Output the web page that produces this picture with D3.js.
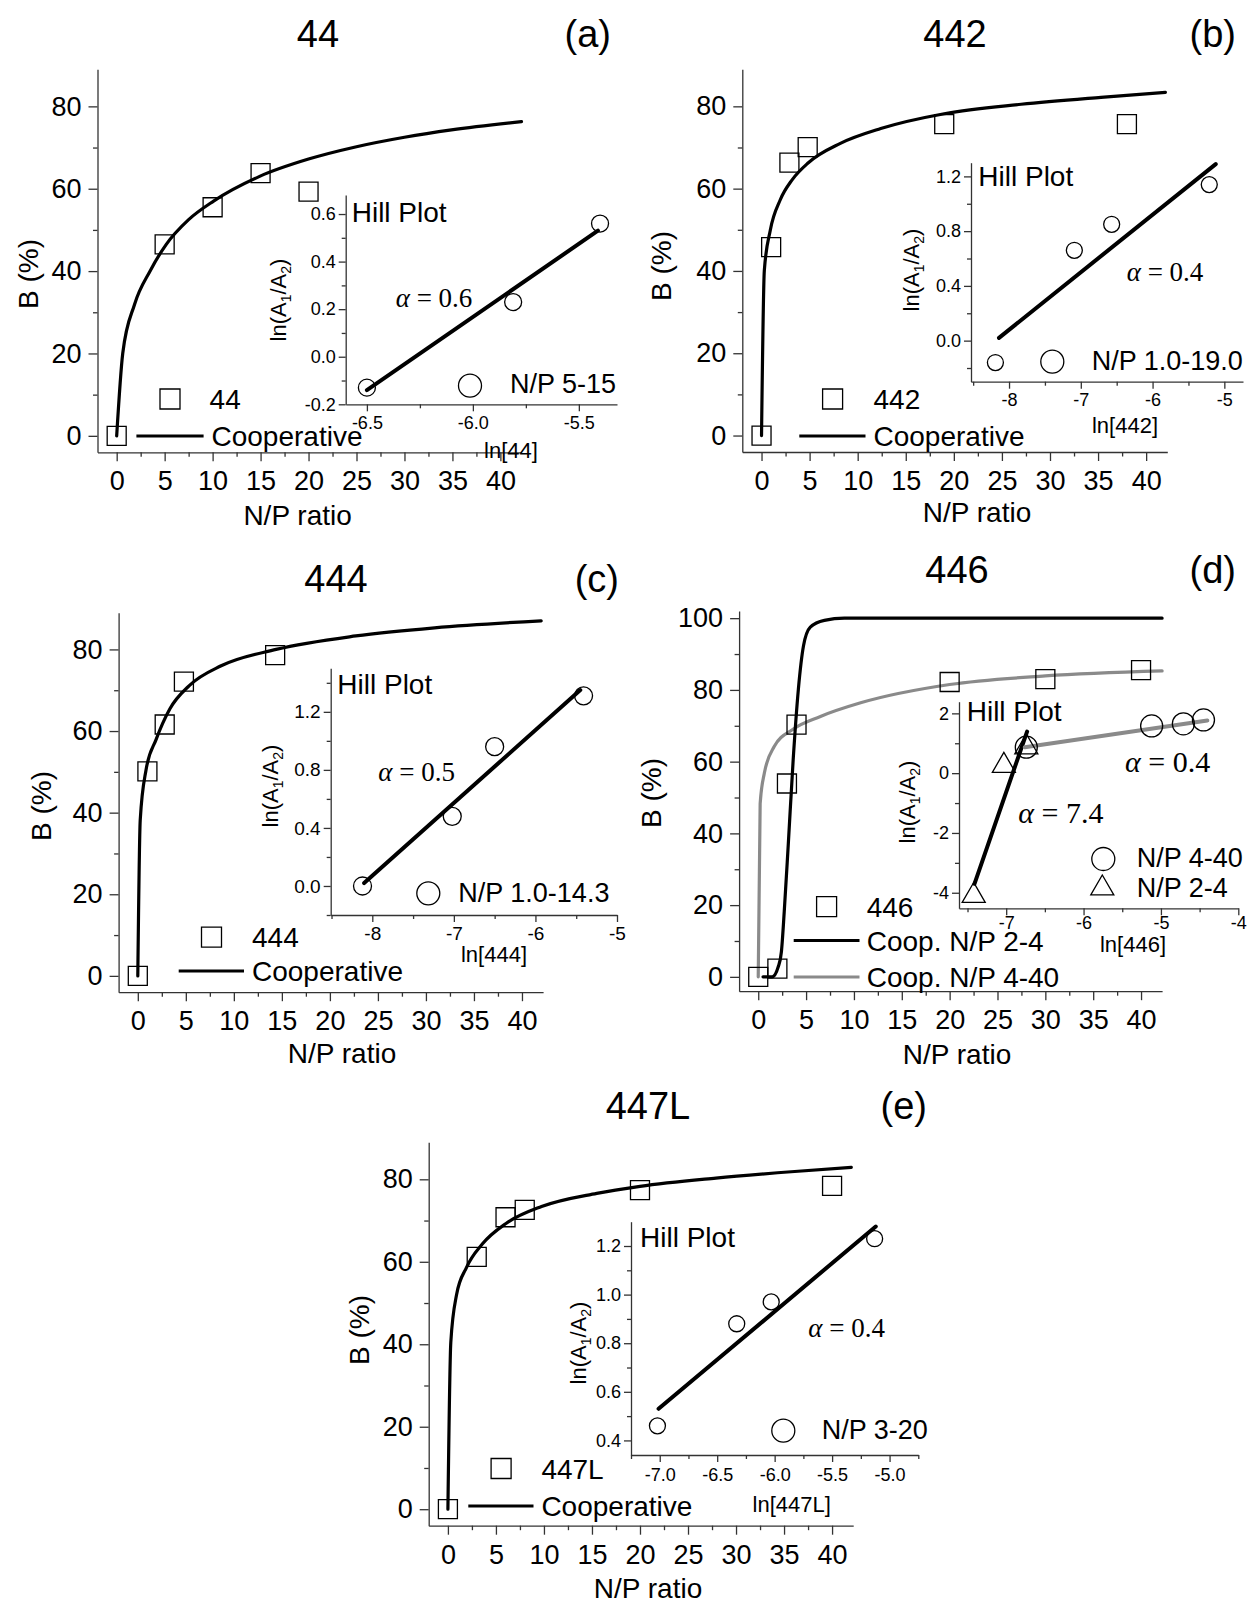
<!DOCTYPE html>
<html>
<head>
<meta charset="utf-8">
<script src="https://cdn.jsdelivr.net/npm/d3@7"></script>
<style>
  html, body { margin: 0; padding: 0; background: #fff; }
  svg { display: block; }
</style>
</head>
<body>
<svg id="fig" width="1249" height="1604"></svg>
<script>
// ---------- shared axis ticks ----------
const npTicks = [0, 5, 10, 15, 20, 25, 30, 35, 40];
const npMinor = [2.5, 7.5, 12.5, 17.5, 22.5, 27.5, 32.5, 37.5];
const npDomain = [-2, 42.2];
const bTicks = [0, 20, 40, 60, 80];
const bMinor = [10, 30, 50, 70];
const bTicks446 = [0, 20, 40, 60, 80, 100];
const bMinor446 = [10, 30, 50, 70, 90];

// ---------- titles ----------
const compounds = ["44", "442", "444", "446", "447L"];
const tags = ["(a)", "(b)", "(c)", "(d)", "(e)"];

// ---------- (a) 44 ----------
const np44 = [0, 5, 10, 15, 20];
const b44 = [0, 46.5, 55.5, 63.8, 59.3];
const coopNp44 = [0, 0.63, 1.86, 3.5, 5.17, 7.5, 10.1, 14.9, 20, 25, 30, 34.9, 42.2];
const coopB44 = [0, 20, 31.9, 40.1, 46.5, 52.5, 57.0, 63.0, 67.2, 70.2, 72.5, 74.3, 76.3];
const hillLn44 = [-6.50, -5.81, -5.40];
const hillY44 = [-0.13, 0.23, 0.56];
const fitLn44 = [-6.50, -5.41];
const fitY44 = [-0.14, 0.53];

// ---------- (b) 442 ----------
const np442 = [0, 1, 2.9, 4.8, 19, 38];
const b442 = [0, 45.8, 66.3, 70.1, 75.7, 75.7];
const coopNp442 = [0, 0.29, 0.91, 1.95, 3.2, 4.87, 8.2, 12.4, 19, 27, 35.3, 42];
const coopB442 = [0, 40.1, 49.9, 57.3, 62.2, 66.3, 71.0, 74.6, 78.2, 80.5, 82.2, 83.4];
const hillLn442 = [-8.19, -7.09, -6.57, -5.21];
const hillY442 = [-0.16, 0.66, 0.85, 1.14];
const fitLn442 = [-8.14, -5.12];
const fitY442 = [0.02, 1.29];

// ---------- (c) 444 ----------
const np444 = [0, 1, 2.8, 4.8, 14.3];
const b444 = [0, 50.1, 61.6, 72.1, 78.6];
const coopNp444 = [0, 0.25, 0.86, 1.9, 3.33, 5.39, 8.68, 14.4, 22.7, 30.9, 42];
const coopB444 = [0, 38.1, 50.5, 57.9, 65.4, 71.2, 76.0, 80.0, 83.3, 85.3, 87.0];
const hillLn444 = [-8.12, -7.02, -6.50, -5.41];
const hillY444 = [0.0, 0.48, 0.96, 1.31];
const fitLn444 = [-8.10, -5.45];
const fitY444 = [0.02, 1.35];

// ---------- (d) 446 ----------
const np446 = [0, 2, 3, 4, 20, 30, 40];
const b446 = [0, 2.3, 53.9, 70.3, 82.2, 83.0, 85.5];
const coopLowNp446 = [0.5, 1.46, 2.09, 2.42, 2.72, 3.14, 3.65, 4.19, 4.73, 5.44, 6.91, 9, 42.2];
const coopLowB446 = [0, 0, 2.8, 7, 18.3, 37, 60.5, 80.1, 92.3, 97.5, 99.4, 100, 100];
const coopHighNp446 = [0, 0.2, 0.63, 1.67, 3.56, 6.5, 10.7, 20, 30, 42.2];
const coopHighB446 = [0, 48.3, 56.7, 64.2, 68.9, 72.6, 76.4, 81.5, 83.9, 85.3];
const hillLnHigh446 = [-6.74, -5.12, -4.71, -4.45];
const hillYHigh446 = [0.87, 1.58, 1.65, 1.78];
const hillLnLow446 = [-7.42, -7.03, -6.74];
const hillYLow446 = [-4.1, 0.25, 0.87];
const fitLnLow446 = [-7.41, -6.73];
const fitYLow446 = [-3.7, 1.39];
const fitLnHigh446 = [-6.76, -4.40];
const fitYHigh446 = [0.87, 1.76];

// ---------- (e) 447L ----------
const np447 = [0, 3, 6, 8, 20, 40];
const b447 = [0, 61.2, 70.8, 72.6, 77.4, 78.4];
const coopNp447 = [0, 0.3, 0.9, 1.93, 3.58, 6.05, 9.75, 15.5, 20, 27.9, 36.1, 42];
const coopB447 = [0, 40.4, 52, 58.6, 64.3, 69.3, 73.4, 76.6, 78.3, 80.3, 81.9, 82.9];
const hillLn447 = [-7.02, -6.33, -6.03, -5.13];
const hillY447 = [0.46, 0.88, 0.97, 1.23];
const fitLn447 = [-7.01, -5.12];
const fitY447 = [0.53, 1.28];

// ---------- inset tick values ----------
const insetTicks = {
  a: { xMajor: [-6.5, -6.0, -5.5], xMinor: [-6.25, -5.75], yMajor: [-0.2, 0.0, 0.2, 0.4, 0.6], yMinor: [-0.1, 0.1, 0.3, 0.5] },
  b: { xMajor: [-8, -7, -6, -5], xMinor: [-8.5, -7.5, -6.5, -5.5], yMajor: [0.0, 0.4, 0.8, 1.2], yMinor: [-0.2, 0.2, 0.6, 1.0] },
  c: { xMajor: [-8, -7, -6, -5], xMinor: [-8.5, -7.5, -6.5, -5.5], yMajor: [0.0, 0.4, 0.8, 1.2], yMinor: [-0.2, 0.2, 0.6, 1.0, 1.4] },
  d: { xMajor: [-7, -6, -5, -4], xMinor: [-7.5, -6.5, -5.5, -4.5], yMajor: [-4, -2, 0, 2], yMinor: [-3, -1, 1] },
  e: { xMajor: [-7.0, -6.5, -6.0, -5.5, -5.0], xMinor: [-7.25, -6.75, -6.25, -5.75, -5.25, -4.75], yMajor: [0.4, 0.6, 0.8, 1.0, 1.2], yMinor: [0.5, 0.7, 0.9, 1.1] }
};

// ---------- styling ----------
const SANS = "'Liberation Sans', Arial, Helvetica, sans-serif";
const SERIF = "'Liberation Serif', 'Times New Roman', serif";
const AX = "#333";
const GREY = "#8a8a8a";
const fmt1 = d => d.toFixed(1);
const fmt0 = d => String(d);

const svg = d3.select("#fig");
svg.append("rect").attr("width", 1249).attr("height", 1604).attr("fill", "#fff");

const squareSym = d3.symbol(d3.symbolSquare, 19 * 19)();
const squareLeg = d3.symbol(d3.symbolSquare, 20 * 20)();

function styleAxis(g, fs) {
  g.attr("font-family", SANS).attr("font-size", fs).attr("color", "#000");
  g.selectAll("path.domain").attr("stroke", AX).attr("stroke-width", 1.3);
  g.selectAll(".tick line").attr("stroke", AX).attr("stroke-width", 1.3);
}

function drawAxes(g, x, y, o) {
  const h = y.range()[0];
  const xMin = g.append("g").attr("transform", `translate(0,${h})`)
    .call(d3.axisBottom(x).tickValues(o.xMinor).tickSize(o.minor).tickSizeOuter(0).tickFormat(""));
  const xMaj = g.append("g").attr("transform", `translate(0,${h})`)
    .call(d3.axisBottom(x).tickValues(o.xMajor).tickSize(o.major).tickSizeOuter(0).tickPadding(o.xPad).tickFormat(o.fx));
  xMaj.select("path.domain").remove();
  const yMin = g.append("g")
    .call(d3.axisLeft(y).tickValues(o.yMinor).tickSize(o.minor).tickSizeOuter(0).tickFormat(""));
  const yMaj = g.append("g")
    .call(d3.axisLeft(y).tickValues(o.yMajor).tickSize(o.major).tickSizeOuter(0).tickPadding(o.yPad).tickFormat(o.fy));
  yMaj.select("path.domain").remove();
  [xMin, xMaj, yMin, yMaj].forEach(a => styleAxis(a, o.font));
}

function label(x, y, txt, size, anchor, family) {
  return svg.append("text").attr("x", x).attr("y", y).attr("font-family", family || SANS)
    .attr("font-size", size).attr("text-anchor", anchor || "start").attr("fill", "#000").text(txt);
}

function rotLabel(cx, cy, size) {
  return svg.append("text")
    .attr("transform", `translate(${cx + 0.35 * size},${cy}) rotate(-90)`)
    .attr("font-family", SANS).attr("font-size", size).attr("text-anchor", "middle").attr("fill", "#000");
}

function alphaLabel(x, y, value, size) {
  const t = svg.append("text").attr("x", x).attr("y", y).attr("font-family", SERIF)
    .attr("font-size", size).attr("fill", "#000");
  t.append("tspan").attr("font-style", "italic").text("\u03b1");
  t.append("tspan").text(" = " + value);
}

function hillTitle(cx, cy) {
  const t = rotLabel(cx, cy, 22);
  t.append("tspan").text("ln(A");
  t.append("tspan").attr("font-size", 14).attr("dy", 5).text("1");
  t.append("tspan").attr("dy", -5).text("/A");
  t.append("tspan").attr("font-size", 14).attr("dy", 5).text("2");
  t.append("tspan").attr("dy", -5).text(")");
}

// ---------- main panels ----------
const mainPanels = [
  { name: compounds[0], tag: tags[0], left: 97.5, top: 69.3, width: 424, height: 383, yDomain: [-4, 89], yT: bTicks, yM: bMinor,
    np: np44, b: b44, curves: [{ x: coopNp44, y: coopB44, color: "#000" }],
    title: [318, 47], tagPos: [611, 47], yTitle: [27.7, 274], xTitle: [297.6, 525],
    legSq: [170, 399], legLabel: [209.6, 409], legLines: [{ x1: 136.4, x2: 203.6, y: 436, color: "#000", text: "Cooperative", tx: 211.5, ty: 446 }] },
  { name: compounds[1], tag: tags[1], left: 742.3, top: 69.3, width: 425, height: 382.7, yDomain: [-4, 89], yT: bTicks, yM: bMinor,
    np: np442, b: b442, curves: [{ x: coopNp442, y: coopB442, color: "#000" }],
    title: [955, 47], tagPos: [1236, 47], yTitle: [661, 266], xTitle: [977, 522],
    legSq: [832.6, 399], legLabel: [873.5, 409], legLines: [{ x1: 799.3, x2: 865.5, y: 436, color: "#000", text: "Cooperative", tx: 873.5, ty: 446 }] },
  { name: compounds[2], tag: tags[2], left: 118.6, top: 612.7, width: 424.5, height: 379.5, yDomain: [-4, 89], yT: bTicks, yM: bMinor,
    np: np444, b: b444, curves: [{ x: coopNp444, y: coopB444, color: "#000" }],
    title: [336, 592], tagPos: [619, 592], yTitle: [41.5, 806], xTitle: [342, 1063],
    legSq: [211.5, 937.2], legLabel: [252, 947], legLines: [{ x1: 178.7, x2: 244, y: 971, color: "#000", text: "Cooperative", tx: 252, ty: 981 }] },
  { name: compounds[3], tag: tags[3], left: 739.1, top: 611, width: 423, height: 380.2, yDomain: [-4, 102], yT: bTicks446, yM: bMinor446,
    np: np446, b: b446,
    curves: [{ x: coopHighNp446, y: coopHighB446, color: GREY }, { x: coopLowNp446, y: coopLowB446, color: "#000" }],
    title: [957, 583], tagPos: [1236, 583], yTitle: [651, 793], xTitle: [957, 1064],
    legSq: [826.6, 906.7], legLabel: [866.7, 917],
    legLines: [{ x1: 793.7, x2: 859.5, y: 940.5, color: "#000", text: "Coop. N/P 2-4", tx: 866.7, ty: 950.5 },
               { x1: 793.7, x2: 859.5, y: 977, color: GREY, text: "Coop. N/P 4-40", tx: 866.7, ty: 987 }] },
  { name: compounds[4], tag: tags[4], left: 428.7, top: 1142.2, width: 424.5, height: 383.5, yDomain: [-4, 89], yT: bTicks, yM: bMinor,
    np: np447, b: b447, curves: [{ x: coopNp447, y: coopB447, color: "#000" }],
    title: [648, 1119], tagPos: [927, 1119], yTitle: [359.5, 1330], xTitle: [648, 1598],
    legSq: [501.1, 1468.5], legLabel: [541.4, 1478.5], legLines: [{ x1: 468.3, x2: 533.5, y: 1506, color: "#000", text: "Cooperative", tx: 541.4, ty: 1516 }] }
];

mainPanels.forEach(p => {
  const g = svg.append("g").attr("transform", `translate(${p.left},${p.top})`);
  const x = d3.scaleLinear().domain(npDomain).range([0, p.width]);
  const y = d3.scaleLinear().domain(p.yDomain).range([p.height, 0]);
  drawAxes(g, x, y, { xMajor: npTicks, xMinor: npMinor, yMajor: p.yT, yMinor: p.yM,
    major: 9, minor: 4.5, xPad: 10, yPad: 7, font: 27, fx: fmt0, fy: fmt0 });

  const line = d3.line().x(d => x(d[0])).y(d => y(d[1])).curve(d3.curveMonotoneX);
  p.curves.forEach(c => {
    g.append("path").attr("d", line(d3.zip(c.x, c.y))).attr("fill", "none")
      .attr("stroke", c.color).attr("stroke-width", 3.2).attr("stroke-linejoin", "round").attr("stroke-linecap", "round");
  });
  g.append("g").selectAll("path").data(d3.zip(p.np, p.b)).join("path")
    .attr("transform", d => `translate(${x(d[0])},${y(d[1])})`)
    .attr("d", squareSym).attr("fill", "none").attr("stroke", "#000").attr("stroke-width", 1.3);

  // titles
  label(p.title[0], p.title[1], p.name, 38, "middle");
  label(p.tagPos[0], p.tagPos[1], p.tag, 38, "end");
  rotLabel(p.yTitle[0], p.yTitle[1], 28).text("B (%)");
  label(p.xTitle[0], p.xTitle[1], "N/P ratio", 28, "middle");

  // legend
  svg.append("path").attr("transform", `translate(${p.legSq[0]},${p.legSq[1]})`).attr("d", squareLeg)
    .attr("fill", "none").attr("stroke", "#000").attr("stroke-width", 1.3);
  label(p.legLabel[0], p.legLabel[1], p.name, 28);
  p.legLines.forEach(l => {
    svg.append("line").attr("x1", l.x1).attr("x2", l.x2).attr("y1", l.y).attr("y2", l.y)
      .attr("stroke", l.color).attr("stroke-width", 3.2);
    label(l.tx, l.ty, l.text, 28);
  });
});

// ---------- Hill plot insets ----------
const insets = [
  { key: "a", left: 345.7, top: 195, right: 617, bottom: 404.3, xDomain: [-6.6, -5.32], yDomain: [-0.2, 0.68], fx: fmt1, fy: fmt1, xPad: 5, font: 18,
    circles: [{ x: hillLn44, y: hillY44, r: 8.5 }], triangles: null,
    fits: [{ x: fitLn44, y: fitY44, color: "#000" }],
    hill: [351.7, 221.7], alphas: [{ x: 395.7, y: 306.7, v: "0.6", s: 27 }],
    legend: [{ shape: "circle", x: 470, y: 385.7, text: "N/P 5-15", tx: 510, ty: 393 }],
    xTitle: ["ln[44]", 511, 458], yTitle: [278, 300] },
  { key: "b", left: 971, top: 162.7, right: 1243, bottom: 381.7, xDomain: [-8.53, -4.74], yDomain: [-0.3, 1.3], fx: fmt0, fy: fmt1, xPad: 5, font: 18,
    circles: [{ x: hillLn442, y: hillY442, r: 8 }], triangles: null,
    fits: [{ x: fitLn442, y: fitY442, color: "#000" }],
    hill: [978.3, 185.7], alphas: [{ x: 1126.7, y: 280.5, v: "0.4", s: 27 }],
    legend: [{ shape: "circle", x: 1052.3, y: 361.7, text: "N/P 1.0-19.0", tx: 1091.7, ty: 370 }],
    xTitle: ["ln[442]", 1125, 433], yTitle: [911, 270] },
  { key: "c", left: 330.7, top: 668.3, right: 617, bottom: 915, xDomain: [-8.51, -5.0], yDomain: [-0.2, 1.5], fx: fmt0, fy: fmt1, xPad: 5, font: 19,
    circles: [{ x: hillLn444, y: hillY444, r: 9 }], triangles: null,
    fits: [{ x: fitLn444, y: fitY444, color: "#000" }],
    hill: [337.3, 694], alphas: [{ x: 378.3, y: 781, v: "0.5", s: 27 }],
    legend: [{ shape: "circle", x: 428.3, y: 893.3, text: "N/P 1.0-14.3", tx: 458.3, ty: 901.7 }],
    xTitle: ["ln[444]", 494, 962], yTitle: [270, 786] },
  { key: "d", left: 959, top: 701.7, right: 1238.3, bottom: 908.3, xDomain: [-7.61, -4.0], yDomain: [-4.52, 2.39], fx: fmt0, fy: fmt0, xPad: 1, font: 18,
    circles: [{ x: hillLnHigh446, y: hillYHigh446, r: 11 }],
    triangles: { x: hillLnLow446, y: hillYLow446 },
    fits: [{ x: fitLnLow446, y: fitYLow446, color: "#000" }, { x: fitLnHigh446, y: fitYHigh446, color: GREY }],
    hill: [966.7, 720.5], alphas: [{ x: 1125, y: 771.5, v: "0.4", s: 30 }, { x: 1018.3, y: 822.5, v: "7.4", s: 30 }],
    legend: [{ shape: "circle", x: 1103.3, y: 859, text: "N/P 4-40", tx: 1136.7, ty: 867 },
             { shape: "triangle", x: 1102.3, y: 888.3, text: "N/P 2-4", tx: 1136.7, ty: 897 }],
    xTitle: ["ln[446]", 1133, 951.7], yTitle: [907.5, 802] },
  { key: "e", left: 631, top: 1221.7, right: 918.3, bottom: 1455, xDomain: [-7.25, -4.75], yDomain: [0.34, 1.3], fx: fmt1, fy: fmt1, xPad: 6, font: 18,
    circles: [{ x: hillLn447, y: hillY447, r: 8 }], triangles: null,
    fits: [{ x: fitLn447, y: fitY447, color: "#000" }],
    hill: [640, 1246.5], alphas: [{ x: 808.3, y: 1336.5, v: "0.4", s: 27 }],
    legend: [{ shape: "circle", x: 783.3, y: 1430.7, text: "N/P 3-20", tx: 821.7, ty: 1439.3 }],
    xTitle: ["ln[447L]", 791.7, 1511.7], yTitle: [578, 1343] }
];

const triPath = d3.symbol(d3.symbolTriangle, 230)();

insets.forEach(s => {
  const t = insetTicks[s.key];
  const g = svg.append("g").attr("transform", `translate(${s.left},${s.top})`);
  const x = d3.scaleLinear().domain(s.xDomain).range([0, s.right - s.left]);
  const y = d3.scaleLinear().domain(s.yDomain).range([s.bottom - s.top, 0]);
  drawAxes(g, x, y, { xMajor: t.xMajor, xMinor: t.xMinor, yMajor: t.yMajor, yMinor: t.yMinor,
    major: 7, minor: 4, xPad: s.xPad, yPad: 3, font: s.font, fx: s.fx, fy: s.fy });

  s.fits.forEach(f => {
    g.append("line").attr("x1", x(f.x[0])).attr("y1", y(f.y[0])).attr("x2", x(f.x[1])).attr("y2", y(f.y[1]))
      .attr("stroke", f.color).attr("stroke-width", 4).attr("stroke-linecap", "round");
  });
  s.circles.forEach(c => {
    g.append("g").selectAll("circle").data(d3.zip(c.x, c.y)).join("circle")
      .attr("cx", d => x(d[0])).attr("cy", d => y(d[1])).attr("r", c.r)
      .attr("fill", "none").attr("stroke", "#000").attr("stroke-width", 1.3);
  });
  if (s.triangles) {
    g.append("g").selectAll("path").data(d3.zip(s.triangles.x, s.triangles.y)).join("path")
      .attr("transform", d => `translate(${x(d[0])},${y(d[1])})`).attr("d", triPath)
      .attr("fill", "none").attr("stroke", "#000").attr("stroke-width", 1.3);
  }

  label(s.hill[0], s.hill[1], "Hill Plot", 28);
  s.alphas.forEach(a => alphaLabel(a.x, a.y, a.v, a.s));
  s.legend.forEach(l => {
    if (l.shape === "circle") {
      svg.append("circle").attr("cx", l.x).attr("cy", l.y).attr("r", 11.5)
        .attr("fill", "none").attr("stroke", "#000").attr("stroke-width", 1.3);
    } else {
      svg.append("path").attr("transform", `translate(${l.x},${l.y})`).attr("d", triPath)
        .attr("fill", "none").attr("stroke", "#000").attr("stroke-width", 1.3);
    }
    label(l.tx, l.ty, l.text, 27);
  });
  label(s.xTitle[1], s.xTitle[2], s.xTitle[0], 22, "middle");
  hillTitle(s.yTitle[0], s.yTitle[1]);
});
</script>
</body>
</html>
